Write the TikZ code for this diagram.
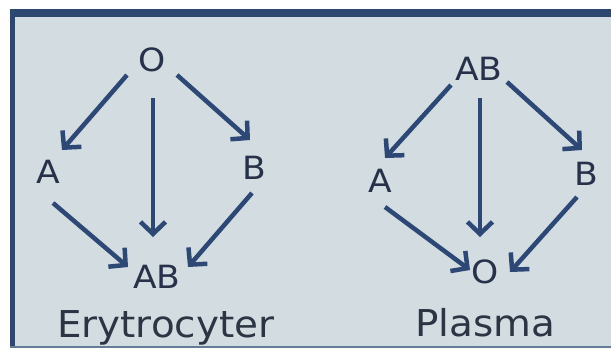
\documentclass[tikz,border=0pt]{standalone}
\usepackage{fontspec}
\usepackage{graphicx}
\setmainfont{DejaVu Sans}
\usetikzlibrary{arrows.meta}
\definecolor{bgc}{HTML}{D3DCE1}
\definecolor{framec}{HTML}{2C4870}
\definecolor{arrc}{HTML}{2D4874}
\definecolor{txtc}{HTML}{27324A}
\definecolor{capc}{HTML}{2B3543}
\begin{document}
\begin{tikzpicture}[x=1pt,y=-1pt,
  lbl/.style={inner sep=0pt, text=txtc, font=\fontsize{32}{32}\selectfont},
  captxt/.style={inner sep=0pt, text=capc, font=\fontsize{37}{37}\selectfont, anchor=base west},
  conn/.style={draw=arrc, line width=4.5pt, -{Straight Barb[length=12pt,width=25pt]}}]

\useasboundingbox (0,0) rectangle (611,349);
\fill[white] (0,0) rectangle (611,349);
\fill[bgc] (10,9) rectangle (611,347);
\fill[framec] (10,9) rectangle (611,17);
\fill[framec] (10,9) rectangle (15,347);
\fill[framec!65!bgc] (10,345.5) rectangle (611,348);

% left diagram
\node[lbl] (lO)  at (152,60)  {\scalebox{1.08}[1]{O}};
\node[lbl] (lA)  at (48,172)  {\scalebox{1.08}[1]{A}};
\node[lbl] (lB)  at (254,168) {\scalebox{1.08}[1]{B}};
\node[lbl] (lAB) at (157,277) {\scalebox{1.08}[1]{AB}};
\node[captxt] (ery) at (57,337) {\scalebox{1.05}[1]{Erytrocyter}};

\draw[conn] ([shift={(-25,15)}]lO.center) -- ([shift={(14,-22)}]lA.center);
\draw[conn] ([shift={(1,38)}]lO.center) -- ([shift={(-4,-40)}]lAB.center);
\draw[conn] ([shift={(25,15)}]lO.center) -- ([shift={(-4,-28)}]lB.center);
\draw[conn] ([shift={(5,31)}]lA.center) -- ([shift={(-29,-10)}]lAB.center);
\draw[conn] ([shift={(-2,25)}]lB.center) -- ([shift={(31,-10)}]lAB.center);

% right diagram
\node[lbl] (rAB) at (479,69)  {\scalebox{1.08}[1]{AB}};
\node[lbl] (rA)  at (380,181) {\scalebox{1.08}[1]{A}};
\node[lbl] (rB)  at (586,174) {\scalebox{1.08}[1]{B}};
\node[lbl] (rO)  at (485,272) {\scalebox{1.08}[1]{O}};
\node[captxt] (pla) at (415,336) {\scalebox{1.05}[1]{Plasma}};

\draw[conn] ([shift={(-28,16)}]rAB.center) -- ([shift={(5,-23)}]rA.center);
\draw[conn] ([shift={(1,29)}]rAB.center) -- ([shift={(-5,-35)}]rO.center);
\draw[conn] ([shift={(28,13)}]rAB.center) -- ([shift={(-4,-24)}]rB.center);
\draw[conn] ([shift={(5,26)}]rA.center) -- ([shift={(-15,-2)}]rO.center);
\draw[conn] ([shift={(-9,23)}]rB.center) -- ([shift={(25,0)}]rO.center);
\end{tikzpicture}
\end{document}
